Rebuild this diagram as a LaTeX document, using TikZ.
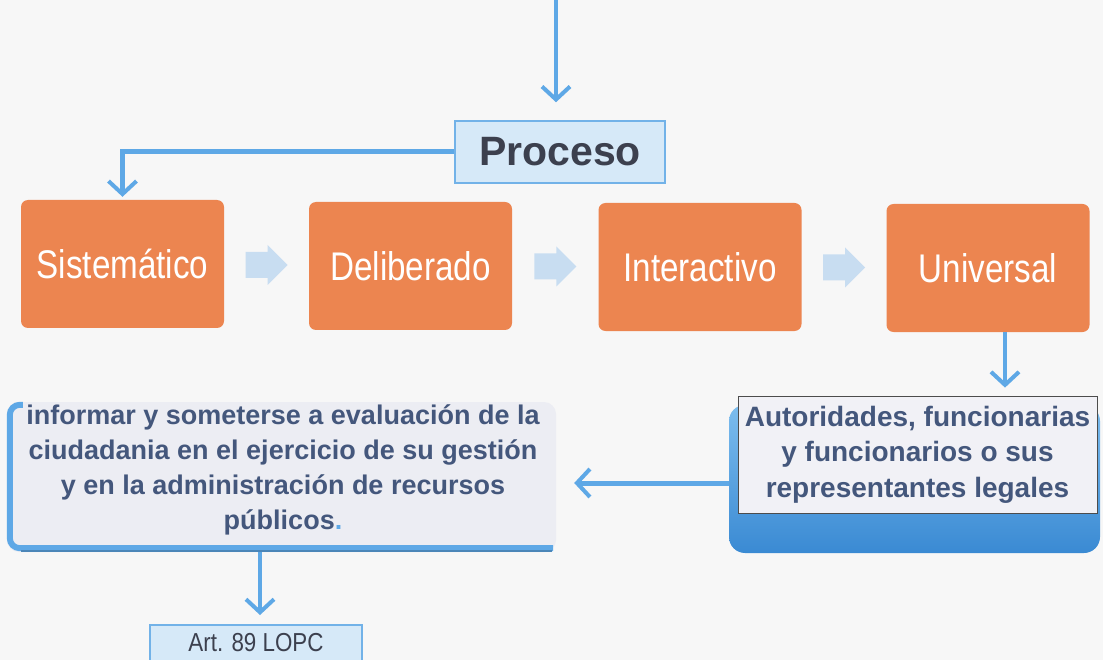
\documentclass[tikz,border=0pt]{standalone}
\usepackage{fontspec}
\setmainfont{Liberation Sans}
\newfontfamily\narrowfont[FakeStretch=0.83]{Liberation Sans}
\newfontfamily\artfont[FakeStretch=0.86]{Liberation Sans}
\usetikzlibrary{arrows.meta,calc}
\definecolor{bgcol}{HTML}{F7F7F7}
\definecolor{ablue}{HTML}{5EA8E6}
\definecolor{lblue}{HTML}{D6E9F8}
\definecolor{bordblue}{HTML}{72B2E8}
\definecolor{orng}{HTML}{EC8550}
\definecolor{chev}{HTML}{C8DDF1}
\definecolor{txtdark}{HTML}{3C404E}
\definecolor{txtblue}{HTML}{44577C}
\definecolor{infofill}{HTML}{ECEDF3}
\definecolor{authfill}{HTML}{F1F1F6}
\definecolor{blueTop}{HTML}{7DBDEE}
\definecolor{blueBot}{HTML}{3A8AD3}
\begin{document}
\begin{tikzpicture}[x=1pt,y=-1pt,
  arr/.style={draw=ablue, line width=4pt, -{Straight Barb[length=13pt,width=28pt,line width=4pt]}},
  orangebox/.style={rectangle, rounded corners=7pt, fill=orng, minimum width=203pt, minimum height=128pt, text=white, font=\narrowfont\fontsize{40}{44}\selectfont, inner sep=0pt},
  bluebox/.style={rectangle, fill=lblue, draw=bordblue, line width=1.5pt},
  chevshape/.style={fill=chev},
]
\fill[bgcol] (0,0) rectangle (1103,660);
\useasboundingbox (0,0) rectangle (1103,660);
\clip (0,0) rectangle (1103,660);

% Proceso
\node[bluebox, minimum width=210pt, minimum height=62pt, text=txtdark, font=\bfseries\fontsize{41}{44}\selectfont, inner sep=0pt] (proceso) at (560,152) {Proceso};

% orange boxes
\node[orangebox] (sis) at (122.5,264) {Sistemático};
\node[orangebox] (del) at (410.5,266) {Deliberado};
\node[orangebox] (int) at (700,267) {Interactivo};
\node[orangebox] (uni) at (988,268) {Universal};

% chevrons
\foreach \a/\b [count=\i] in {sis/del, del/int, int/uni} {
  \coordinate (c\i) at ($(\a.east)!0.5!(\b.west)$);
  \fill[chevshape] ($(c\i)+(-21,-13)$) -- ($(c\i)+(1,-13)$) -- ($(c\i)+(1,-20)$) -- ($(c\i)+(21,0)$)
     -- ($(c\i)+(1,20)$) -- ($(c\i)+(1,13)$) -- ($(c\i)+(-21,13)$) -- cycle;
}

% Autoridades box
\node[rectangle, rounded corners=16pt, top color=blueTop, bottom color=blueBot, minimum width=371pt, minimum height=148pt] (authbg) at (914.5,479) {};
\node[rectangle, fill=authfill, draw=gray!60!black, line width=0.8pt, minimum width=359pt, minimum height=117pt, align=center, text=txtblue, font=\bfseries\fontsize{28}{35.5}\selectfont, inner sep=0pt] (auth) at (917.5,454.5) {Autoridades, funcionarias\\y funcionarios o sus\\representantes legales};

% info box
\node[rectangle, rounded corners=12pt, fill=infofill, minimum width=549pt, minimum height=150pt] (info) at (281.5,477) {};
\draw[ablue, line width=6pt, rounded corners=10pt] ($(info.north west)+(16,3)$) -- ($(info.north west)+(3,3)$) -- ($(info.south west)+(3,-4)$) -- ($(info.south east)+(-3,-4)$);
\draw[ablue!80!black, line width=2pt] ($(info.south west)+(14,-1)$) -- ($(info.south east)+(-4,-1)$);
\node[align=center, text=txtblue, font=\bfseries\fontsize{27}{35}\selectfont, inner sep=0pt] (infotext) at (283,470)
 {informar y someterse a evaluación de la\\ciudadania en el ejercicio de su gestión\\y en la administración de recursos\\públicos{\color{ablue}.}};

% Art box
\coordinate (artc) at (256,643);
\coordinate (arttop) at ($(artc)+(0,-18)$);
\draw[bluebox] ($(artc)+(-106,-18)$) rectangle ($(artc)+(106,50)$);
\node[text=txtdark, font=\artfont\fontsize{26}{28}\selectfont, inner sep=0pt] (art) at (artc) {Art. 89 LOPC};

% connectors
\coordinate (topstart) at (556,0);
\draw[arr, shorten >=18pt] (topstart) -- (topstart |- proceso.north);
\draw[arr, line width=5pt, shorten >=3pt] (proceso.west) -| (sis.north);
\draw[arr, shorten >=8pt] ([xshift=17pt]uni.south) -- ([xshift=17pt]uni.south |- auth.north);
\draw[arr, line width=5pt, shorten >=18pt] (authbg.west |- 0,483) -- (info.east |- 0,483);
\draw[arr, shorten >=10pt] ([xshift=-21.5pt]info.south) -- ([xshift=-21.5pt]info.south |- arttop);
\end{tikzpicture}
\end{document}
